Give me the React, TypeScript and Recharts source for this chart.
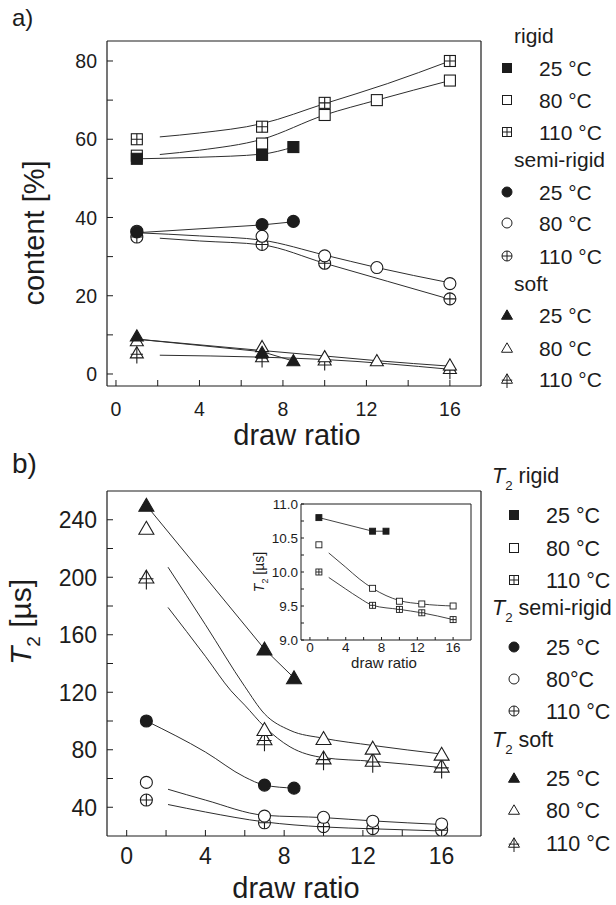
import React from 'react'
import { ComposedChart, Scatter, Line, XAxis, YAxis, Legend, Label } from 'recharts'

const INK = '#1c1c1c'
const WIRE = '#2e2e2e'
const FONT = '"Liberation Sans", Arial, Helvetica, sans-serif'

// ---------- a) content [%] vs draw ratio (measured points)
const aRigid25X = [1, 7, 8.5]
const aRigid25Y = [55, 56, 58]
const aRigid80X = [1, 7, 10, 12.5, 16]
const aRigid80Y = [55.8, 58.9, 66.2, 70, 75]
const aRigid110X = [1, 7, 10, 16]
const aRigid110Y = [60, 63.2, 69.3, 80]
const aSemi25X = [1, 7, 8.5]
const aSemi25Y = [36.3, 38.2, 39]
const aSemi80X = [1, 7, 10, 12.5, 16]
const aSemi80Y = [36.5, 35.2, 30.2, 27.2, 23.1]
const aSemi110X = [1, 7, 10, 16]
const aSemi110Y = [35, 33.1, 28.3, 19.2]
const aSoft25X = [1, 7, 8.5]
const aSoft25Y = [9.7, 5.5, 3.4]
const aSoft80X = [1, 7, 10, 12.5, 16]
const aSoft80Y = [8.5, 7, 4.4, 3.4, 2.3]
const aSoft110X = [1, 7, 10, 16]
const aSoft110Y = [5.4, 4.4, 3.6, 1.4]

// a) guide curves
const aFitRigid25X = [1, 4, 7, 8.5]
const aFitRigid25Y = [55, 55.4, 56.2, 58]
const aFitRigid80X = [2.1, 4, 7, 10, 12.5, 16]
const aFitRigid80Y = [56.1, 57.2, 60, 66.2, 70, 75]
const aFitRigid110X = [2.1, 4, 7, 10, 13, 16]
const aFitRigid110Y = [60.6, 61.6, 64, 69.1, 74.2, 80]
const aFitSemi25X = [1, 7, 8.5]
const aFitSemi25Y = [36.1, 38.1, 38.9]
const aFitSemi80X = [1, 4, 7, 10, 12.5, 16]
const aFitSemi80Y = [36.1, 35.3, 34.2, 30.4, 27.2, 23.3]
const aFitSemi110X = [2.1, 4, 7, 10, 13, 16]
const aFitSemi110Y = [34.7, 34, 33, 28.3, 23.7, 19.1]
const aFitSoft25X = [1, 7, 8.5]
const aFitSoft25Y = [8.9, 5.7, 3.3]
const aFitSoft80X = [1, 7, 10, 12.5, 16]
const aFitSoft80Y = [8.9, 6, 4.6, 3.4, 2]
const aFitSoft110X = [2.1, 7, 10, 16]
const aFitSoft110Y = [4.8, 4.3, 3.7, 1.2]

// ---------- b) T2 [µs] vs draw ratio
const bSemi25X = [1, 7, 8.5]
const bSemi25Y = [100, 55.4, 53.3]
const bSemi80X = [1, 7, 10, 12.5, 16]
const bSemi80Y = [57.3, 33.8, 33, 30.3, 28.4]
const bSemi110X = [1, 7, 10, 12.5, 16]
const bSemi110Y = [45, 29.2, 26.5, 25.1, 24]
const bSoft25X = [1, 7, 8.5]
const bSoft25Y = [250, 150, 130]
const bSoft80X = [1, 7, 10, 12.5, 16]
const bSoft80Y = [234, 94, 87.7, 81, 76.8]
const bSoft110X = [1, 7, 10, 12.5, 16]
const bSoft110Y = [200, 87.5, 74.2, 72.6, 68.5]

const bFitSemi25X = [1, 4, 6, 7, 8.5]
const bFitSemi25Y = [100, 78.4, 61, 55.4, 53.3]
const bFitSemi80X = [2.1, 4, 7, 10, 12.5, 16]
const bFitSemi80Y = [52.5, 45, 34.4, 32.8, 30.5, 28]
const bFitSemi110X = [2.1, 4, 7, 10, 12.5, 16]
const bFitSemi110Y = [41.9, 36.7, 29.8, 26.3, 25, 23.5]
const bFitSoft25X = [1, 7, 8.5]
const bFitSoft25Y = [250, 150, 130]
const bFitSoft80X = [2.1, 4, 6, 7, 8.3, 10, 12.5, 16]
const bFitSoft80Y = [207, 167, 124, 105, 93.5, 88, 83, 77]
const bFitSoft110X = [2.1, 4, 5.3, 6, 7, 8.3, 10, 12.5, 16]
const bFitSoft110Y = [179, 145, 121, 111, 96, 82, 74.5, 72, 67.6]

// ---------- b) inset: T2 rigid
const iRigid25X = [1, 7, 8.5]
const iRigid25Y = [10.8, 10.6, 10.6]
const iRigid80X = [1, 7, 10, 12.5, 16]
const iRigid80Y = [10.4, 9.76, 9.57, 9.53, 9.5]
const iRigid110X = [1, 7, 10, 12.5, 16]
const iRigid110Y = [10, 9.51, 9.45, 9.4, 9.3]

const iFitRigid25X = [1, 7, 8.5]
const iFitRigid25Y = [10.8, 10.6, 10.6]
const iFitRigid80X = [2.1, 4, 5.5, 7, 10, 12.5, 16]
const iFitRigid80Y = [10.28, 10.07, 9.9, 9.76, 9.58, 9.53, 9.5]
const iFitRigid110X = [2.1, 4, 5.5, 7, 10, 12.5, 16]
const iFitRigid110Y = [9.92, 9.75, 9.62, 9.51, 9.45, 9.4, 9.3]

// ---------- axes
const xTicks = [0, 2, 4, 6, 8, 10, 12, 14, 16]
const xLabels = [0, 4, 8, 12, 16]
const aYTicks = [0, 10, 20, 30, 40, 50, 60, 70, 80]
const aYLabels = [0, 20, 40, 60, 80]
const bYTicks = [40, 60, 80, 100, 120, 140, 160, 180, 200, 220, 240]
const bYLabels = [40, 80, 120, 160, 200, 240]
const iYTicks = [9, 9.25, 9.5, 9.75, 10, 10.25, 10.5, 10.75, 11]
const iYLabels = [9, 9.5, 10, 10.5, 11]

// ---------- legend
const legendTitles = ['rigid', 'semi-rigid', 'soft']
const legendTempsA = [['25 °C', '80 °C', '110 °C'], ['25 °C', '80 °C', '110 °C'], ['25 °C', '80 °C', '110 °C']]
const legendTempsB = [['25 °C', '80 °C', '110 °C'], ['25 °C', '80°C', '110 °C'], ['25 °C', '80 °C', '110 °C']]

type Kind = 'sqF' | 'sqO' | 'sqP' | 'ciF' | 'ciO' | 'ciP' | 'trF' | 'trO' | 'trP'
type Curve = 'monotone' | 'linear'
const legendKinds: Kind[][] = [['sqF', 'sqO', 'sqP'], ['ciF', 'ciO', 'ciP'], ['trF', 'trO', 'trP']]

const pts = (xs: number[], ys: number[]) => xs.map((x, i) => ({ x, y: ys[i] }))

function Marker({ kind, cx, cy, s, sw = 1.1 }: { kind: Kind; cx: number; cy: number; s: number; sw?: number }) {
  const h = s / 2
  const shape = kind.slice(0, 2)
  const mode = kind[2]
  const fill = mode === 'F' ? INK : '#fff'
  const st = { stroke: INK, strokeWidth: sw }
  if (shape === 'sq') {
    return (
      <g>
        <rect x={cx - h} y={cy - h} width={s} height={s} fill={fill} {...st} />
        {mode === 'P' && <path d={`M${cx - h},${cy}H${cx + h}M${cx},${cy - h}V${cy + h}`} fill="none" {...st} />}
      </g>
    )
  }
  if (shape === 'ci') {
    return (
      <g>
        <circle cx={cx} cy={cy} r={h} fill={fill} {...st} />
        {mode === 'P' && <path d={`M${cx - h},${cy}H${cx + h}M${cx},${cy - h}V${cy + h}`} fill="none" {...st} />}
      </g>
    )
  }
  const ht = s * 0.86
  const top = cy - ht * 0.55
  const bot = cy + ht * 0.45
  return (
    <g>
      <path d={`M${cx},${top}L${cx + h},${bot}L${cx - h},${bot}Z`} fill={fill} {...st} />
      {mode === 'P' && (
        <path d={`M${cx},${top}V${cy + ht * 0.95}M${cx - h * 0.95},${cy + ht * 0.12}H${cx + h * 0.95}`} fill="none" {...st} />
      )}
    </g>
  )
}

const tickText = (labels: number[], size: number, anchor: 'end' | 'middle', dy: string, fmt?: (v: number) => string) =>
  (p: any) => {
    const v = p.payload.value
    if (!labels.includes(v)) return <g />
    return (
      <text x={p.x} y={p.y} dy={dy} textAnchor={anchor} fontSize={size} fill={INK} fontFamily={FONT}>
        {fmt ? fmt(v) : v}
      </text>
    )
  }

function LegendBlock({ temps, headY, rowY, headX, symX, textX, size, t2 }: {
  temps: string[][]; headY: number[]; rowY: number[][]; headX: number; symX: number; textX: number; size: number; t2?: boolean
}) {
  return (
    <svg width={128} height={420} style={{ overflow: 'visible', fontFamily: FONT }}>
      {legendTitles.map((title, g) => (
        <g key={title}>
          <text x={headX} y={headY[g]} fontSize={size} fill={INK}>
            {t2 && <tspan fontStyle="italic">T</tspan>}
            {t2 && <tspan fontSize={size * 0.62} dy={size * 0.32}>2</tspan>}
            <tspan dy={t2 ? -size * 0.32 : 0}>{t2 ? ' ' + title : title}</tspan>
          </text>
          {legendKinds[g].map((k, r) => (
            <g key={k}>
              <Marker kind={k} cx={symX} cy={rowY[g][r]} s={k.startsWith('tr') ? 11 : k.startsWith('ci') ? 10 : 9} sw={1} />
              <text x={textX} y={rowY[g][r]} dy="0.36em" fontSize={size} fill={INK}>{temps[g][r]}</text>
            </g>
          ))}
        </g>
      ))}
    </svg>
  )
}

const axisLine = { stroke: INK, strokeWidth: 1.2 }
const tickLine = { stroke: INK, strokeWidth: 1 }

const aSeries: { kind: Kind; data: { x: number; y: number }[] }[] = [
  { kind: 'sqP', data: pts(aRigid110X, aRigid110Y) },
  { kind: 'sqO', data: pts(aRigid80X, aRigid80Y) },
  { kind: 'sqF', data: pts(aRigid25X, aRigid25Y) },
  { kind: 'ciP', data: pts(aSemi110X, aSemi110Y) },
  { kind: 'ciO', data: pts(aSemi80X, aSemi80Y) },
  { kind: 'ciF', data: pts(aSemi25X, aSemi25Y) },
  { kind: 'trP', data: pts(aSoft110X, aSoft110Y) },
  { kind: 'trO', data: pts(aSoft80X, aSoft80Y) },
  { kind: 'trF', data: pts(aSoft25X, aSoft25Y) },
]
const aFits: { curve: Curve; data: { x: number; y: number }[] }[] = [
  { curve: 'monotone', data: pts(aFitRigid25X, aFitRigid25Y) },
  { curve: 'monotone', data: pts(aFitRigid80X, aFitRigid80Y) },
  { curve: 'monotone', data: pts(aFitRigid110X, aFitRigid110Y) },
  { curve: 'linear', data: pts(aFitSemi25X, aFitSemi25Y) },
  { curve: 'monotone', data: pts(aFitSemi80X, aFitSemi80Y) },
  { curve: 'monotone', data: pts(aFitSemi110X, aFitSemi110Y) },
  { curve: 'linear', data: pts(aFitSoft25X, aFitSoft25Y) },
  { curve: 'monotone', data: pts(aFitSoft80X, aFitSoft80Y) },
  { curve: 'monotone', data: pts(aFitSoft110X, aFitSoft110Y) },
]

const bSeries: { kind: Kind; data: { x: number; y: number }[] }[] = [
  { kind: 'ciP', data: pts(bSemi110X, bSemi110Y) },
  { kind: 'ciO', data: pts(bSemi80X, bSemi80Y) },
  { kind: 'ciF', data: pts(bSemi25X, bSemi25Y) },
  { kind: 'trP', data: pts(bSoft110X, bSoft110Y) },
  { kind: 'trO', data: pts(bSoft80X, bSoft80Y) },
  { kind: 'trF', data: pts(bSoft25X, bSoft25Y) },
]
const bFits: { curve: Curve; data: { x: number; y: number }[] }[] = [
  { curve: 'monotone', data: pts(bFitSemi25X, bFitSemi25Y) },
  { curve: 'monotone', data: pts(bFitSemi80X, bFitSemi80Y) },
  { curve: 'monotone', data: pts(bFitSemi110X, bFitSemi110Y) },
  { curve: 'linear', data: pts(bFitSoft25X, bFitSoft25Y) },
  { curve: 'monotone', data: pts(bFitSoft80X, bFitSoft80Y) },
  { curve: 'monotone', data: pts(bFitSoft110X, bFitSoft110Y) },
]

const iSeries: { kind: Kind; data: { x: number; y: number }[] }[] = [
  { kind: 'sqP', data: pts(iRigid110X, iRigid110Y) },
  { kind: 'sqO', data: pts(iRigid80X, iRigid80Y) },
  { kind: 'sqF', data: pts(iRigid25X, iRigid25Y) },
]
const iFits: { curve: Curve; data: { x: number; y: number }[] }[] = [
  { curve: 'linear', data: pts(iFitRigid25X, iFitRigid25Y) },
  { curve: 'monotone', data: pts(iFitRigid80X, iFitRigid80Y) },
  { curve: 'monotone', data: pts(iFitRigid110X, iFitRigid110Y) },
]

function PanelA() {
  const xDom = [-0.43, 17.49]
  const yDom = [-3.07, 85.11]
  return (
    <ComposedChart width={616} height={456} margin={{ top: 40, right: 134, bottom: 30, left: 47 }}>
      <XAxis xAxisId="b" type="number" dataKey="x" domain={xDom} ticks={xTicks} allowDataOverflow interval={0}
        height={40} tickSize={-6} tickMargin={22} axisLine={axisLine} tickLine={tickLine}
        tick={tickText(xLabels, 19.5, 'middle', '0.71em')}>
        <Label content={() => (
          <text x={297} y={445} textAnchor="middle" fontSize={29} fill={INK} fontFamily={FONT}>draw ratio</text>
        )} />
      </XAxis>
      <XAxis xAxisId="t" orientation="top" type="number" dataKey="x" domain={xDom} ticks={xTicks} allowDataOverflow
        interval={0} height={1} tickSize={-6} axisLine={axisLine} tickLine={tickLine} tick={false} />
      <YAxis yAxisId="l" type="number" dataKey="y" domain={yDom} ticks={aYTicks} allowDataOverflow interval={0}
        width={60} tickSize={-6} tickMargin={16} axisLine={axisLine} tickLine={tickLine}
        tick={tickText(aYLabels, 19.5, 'end', '0.36em')}>
        <Label content={() => (
          <text x={44} y={233} transform="rotate(-90 44 233)" textAnchor="middle" fontSize={29} fill={INK} fontFamily={FONT}>
            content [%]
          </text>
        )} />
      </YAxis>
      <YAxis yAxisId="r" orientation="right" type="number" dataKey="y" domain={yDom} ticks={aYTicks} allowDataOverflow
        interval={0} width={1} tickSize={-6} axisLine={axisLine} tickLine={tickLine} tick={false} />
      {aFits.map((f, i) => (
        <Line key={'f' + i} xAxisId="b" yAxisId="l" data={f.data} dataKey="y" type={f.curve} dot={false} activeDot={false}
          stroke={WIRE} strokeWidth={1} isAnimationActive={false} />
      ))}
      {aSeries.map((s, i) => (
        <Scatter key={'s' + i} xAxisId="b" yAxisId="l" data={s.data} isAnimationActive={false}
          shape={(p: any) => <Marker kind={s.kind} cx={p.cx} cy={p.cy} s={s.kind.startsWith('tr') ? 13 : s.kind.startsWith('ci') ? 12 : 11} />} />
      ))}
      <Legend layout="vertical" align="center" verticalAlign="middle"
        wrapperStyle={{ left: 488, top: 0, width: 128, height: 400 }}
        content={() => (
          <LegendBlock temps={legendTempsA} headY={[43, 167, 291]}
            rowY={[[68, 100, 132], [192, 223, 256], [315, 348, 379]]}
            headX={26} symX={19} textX={51} size={21} />
        )} />
    </ComposedChart>
  )
}

function PanelB() {
  const xDom = [-1, 18]
  const yDom = [20, 260]
  return (
    <ComposedChart width={616} height={455} margin={{ top: 40, right: 134, bottom: 29, left: 47 }}>
      <XAxis xAxisId="b" type="number" dataKey="x" domain={xDom} ticks={xTicks} allowDataOverflow interval={0}
        height={40} tickSize={-6} tickMargin={18} axisLine={axisLine} tickLine={tickLine}
        tick={tickText(xLabels, 23, 'middle', '0.71em')}>
        <Label content={() => (
          <text x={296} y={448} textAnchor="middle" fontSize={29} fill={INK} fontFamily={FONT}>draw ratio</text>
        )} />
      </XAxis>
      <XAxis xAxisId="t" orientation="top" type="number" dataKey="x" domain={xDom} ticks={xTicks} allowDataOverflow
        interval={0} height={1} tickSize={-6} axisLine={axisLine} tickLine={tickLine} tick={false} />
      <YAxis yAxisId="l" type="number" dataKey="y" domain={yDom} ticks={bYTicks} allowDataOverflow interval={0}
        width={60} tickSize={-6} tickMargin={16} axisLine={axisLine} tickLine={tickLine}
        tick={tickText(bYLabels, 23, 'end', '0.36em')}>
        <Label content={() => (
          <text x={31} y={172} transform="rotate(-90 31 172)" textAnchor="middle" fontSize={30} fill={INK} fontFamily={FONT}>
            <tspan fontStyle="italic">T</tspan>
            <tspan fontSize={19} dy={9}>2</tspan>
            <tspan dy={-9}> [µs]</tspan>
          </text>
        )} />
      </YAxis>
      <YAxis yAxisId="r" orientation="right" type="number" dataKey="y" domain={yDom} ticks={bYTicks} allowDataOverflow
        interval={0} width={1} tickSize={-6} axisLine={axisLine} tickLine={tickLine} tick={false} />
      {bFits.map((f, i) => (
        <Line key={'f' + i} xAxisId="b" yAxisId="l" data={f.data} dataKey="y" type={f.curve} dot={false} activeDot={false}
          stroke={WIRE} strokeWidth={1} isAnimationActive={false} />
      ))}
      {bSeries.map((s, i) => (
        <Scatter key={'s' + i} xAxisId="b" yAxisId="l" data={s.data} isAnimationActive={false}
          shape={(p: any) => <Marker kind={s.kind} cx={p.cx} cy={p.cy} s={s.kind.startsWith('tr') ? 15 : 12} />} />
      ))}
      <Legend layout="vertical" align="center" verticalAlign="middle"
        wrapperStyle={{ left: 488, top: 0, width: 128, height: 420 }}
        content={() => (
          <LegendBlock temps={legendTempsB} headY={[33, 165, 297]} t2
            rowY={[[65, 98, 130], [197, 229, 261], [328, 360, 393]]}
            headX={4} symX={26} textX={58} size={21.5} />
        )} />
    </ComposedChart>
  )
}

function Inset() {
  const xDom = [-1, 18]
  const yDom = [9, 11]
  return (
    <ComposedChart width={250} height={190} margin={{ top: 13, right: 8, bottom: 20, left: 31 }}>
      <XAxis xAxisId="b" type="number" dataKey="x" domain={xDom} ticks={xTicks} allowDataOverflow interval={0}
        height={20} tickSize={-3} tickMargin={5} axisLine={{ stroke: INK, strokeWidth: 1 }} tickLine={tickLine}
        tick={tickText(xLabels, 13.5, 'middle', '0.71em')}>
        <Label content={() => (
          <text x={154} y={178} textAnchor="middle" fontSize={15} fill={INK} fontFamily={FONT}>draw ratio</text>
        )} />
      </XAxis>
      <XAxis xAxisId="t" orientation="top" type="number" dataKey="x" domain={xDom} ticks={xTicks} allowDataOverflow
        interval={0} height={1} tickSize={-3} axisLine={{ stroke: INK, strokeWidth: 1 }} tickLine={tickLine} tick={false} />
      <YAxis yAxisId="l" type="number" dataKey="y" domain={yDom} ticks={iYTicks} allowDataOverflow interval={0}
        width={40} tickSize={-3} tickMargin={6} axisLine={{ stroke: INK, strokeWidth: 1 }} tickLine={tickLine}
        tick={tickText(iYLabels, 13.5, 'end', '0.36em', (v) => v.toFixed(1))}>
        <Label content={() => (
          <text x={34} y={82} transform="rotate(-90 34 82)" textAnchor="middle" fontSize={14} fill={INK} fontFamily={FONT}>
            <tspan fontStyle="italic">T</tspan>
            <tspan fontSize={9} dy={4}>2</tspan>
            <tspan dy={-4}> [µs]</tspan>
          </text>
        )} />
      </YAxis>
      <YAxis yAxisId="r" orientation="right" type="number" dataKey="y" domain={yDom} ticks={iYTicks} allowDataOverflow
        interval={0} width={1} tickSize={-3} axisLine={{ stroke: INK, strokeWidth: 1 }} tickLine={tickLine} tick={false} />
      {iFits.map((f, i) => (
        <Line key={'f' + i} xAxisId="b" yAxisId="l" data={f.data} dataKey="y" type={f.curve} dot={false} activeDot={false}
          stroke={WIRE} strokeWidth={0.9} isAnimationActive={false} />
      ))}
      {iSeries.map((s, i) => (
        <Scatter key={'s' + i} xAxisId="b" yAxisId="l" data={s.data} isAnimationActive={false}
          shape={(p: any) => <Marker kind={s.kind} cx={p.cx} cy={p.cy} s={6} sw={0.9} />} />
      ))}
    </ComposedChart>
  )
}

export default function App() {
  return (
    <div style={{ position: 'absolute', left: 0, top: 0, width: 616, height: 905, background: '#fff', fontFamily: FONT, color: INK }}>
      <div style={{ position: 'absolute', left: 12, top: 4, fontSize: 24 }}>a)</div>
      <div style={{ position: 'absolute', left: 12, top: 448, fontSize: 28 }}>b)</div>
      <div style={{ position: 'absolute', left: 0, top: 0 }}>
        <PanelA />
      </div>
      <div style={{ position: 'absolute', left: 0, top: 450 }}>
        <PanelB />
      </div>
      <div style={{ position: 'absolute', left: 230, top: 490 }}>
        <Inset />
      </div>
    </div>
  )
}
